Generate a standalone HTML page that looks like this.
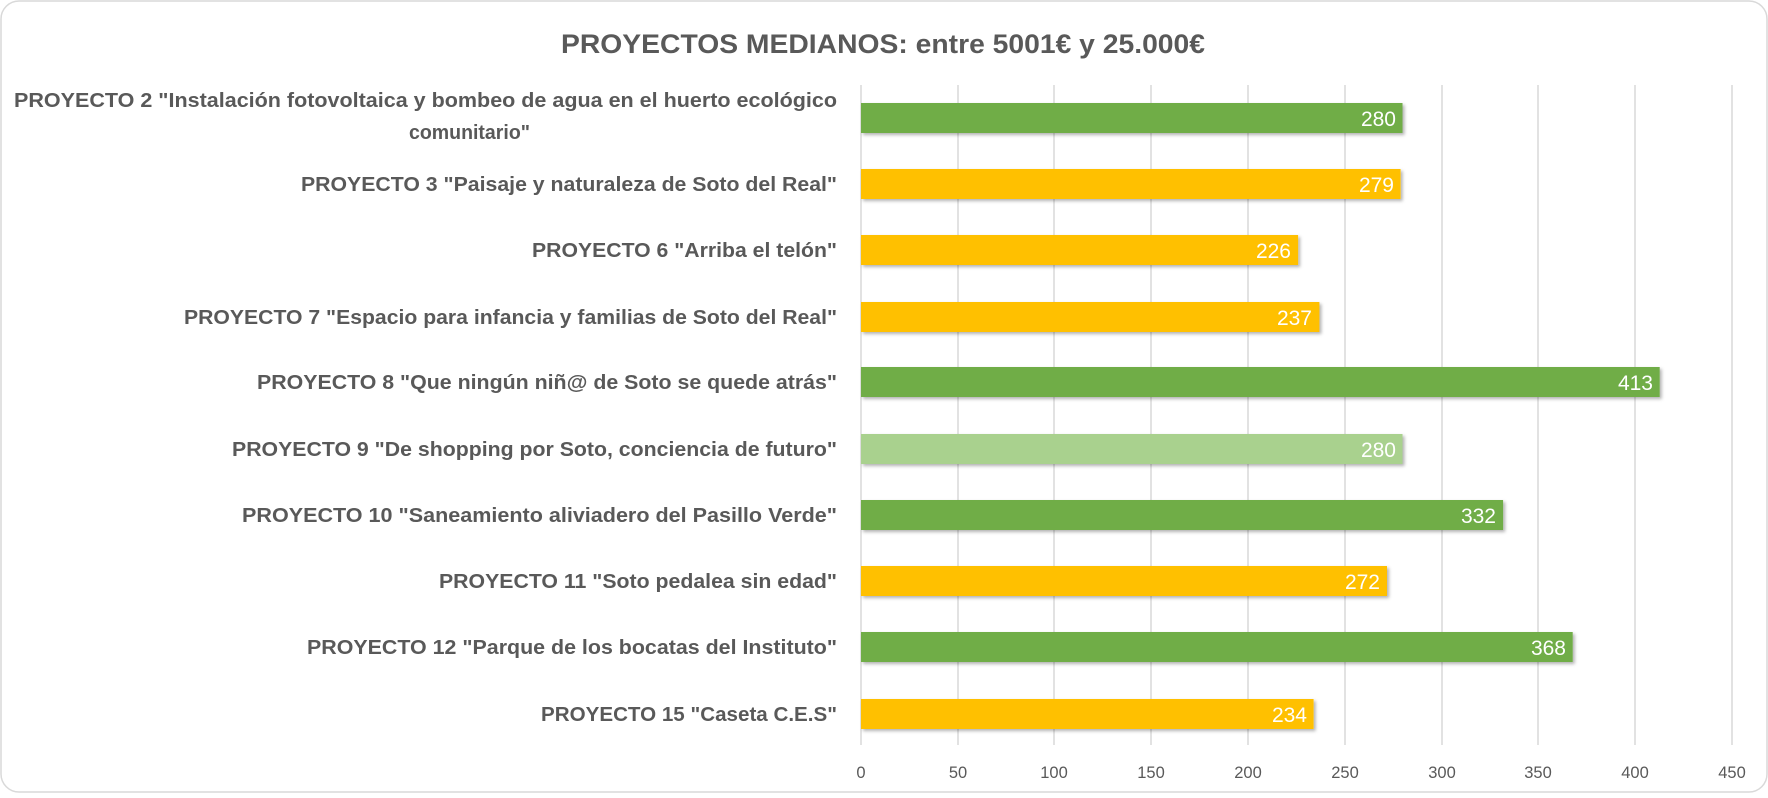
<!DOCTYPE html>
<html><head><meta charset="utf-8"><style>html,body{margin:0;padding:0;background:#fff}</style></head>
<body>
<svg width="1768" height="793" xmlns="http://www.w3.org/2000/svg" font-family="Liberation Sans, sans-serif">
<defs><filter id="sh" x="-5%" y="-20%" width="110%" height="160%"><feDropShadow dx="2" dy="2" stdDeviation="1.5" flood-color="#000" flood-opacity="0.3"/></filter></defs>
<rect x="1" y="1" width="1766" height="791" rx="18" fill="#fff" stroke="#d9d9d9" stroke-width="1.5"/>
<text x="883" y="53" text-anchor="middle" font-size="27" font-weight="bold" fill="#595959" textLength="644" lengthAdjust="spacingAndGlyphs">PROYECTOS MEDIANOS: entre 5001€ y 25.000€</text>
<g stroke="#d9d9d9" stroke-width="1.5">
<line x1="861" y1="85" x2="861" y2="745"/><line x1="958" y1="85" x2="958" y2="745"/><line x1="1054" y1="85" x2="1054" y2="745"/><line x1="1151" y1="85" x2="1151" y2="745"/><line x1="1248" y1="85" x2="1248" y2="745"/><line x1="1345" y1="85" x2="1345" y2="745"/><line x1="1442" y1="85" x2="1442" y2="745"/><line x1="1538" y1="85" x2="1538" y2="745"/><line x1="1635" y1="85" x2="1635" y2="745"/><line x1="1732" y1="85" x2="1732" y2="745"/>
</g>
<g font-size="16.5" fill="#595959" text-anchor="middle">
<text x="861" y="778">0</text><text x="958" y="778">50</text><text x="1054" y="778">100</text><text x="1151" y="778">150</text><text x="1248" y="778">200</text><text x="1345" y="778">250</text><text x="1442" y="778">300</text><text x="1538" y="778">350</text><text x="1635" y="778">400</text><text x="1732" y="778">450</text>
</g>
<g filter="url(#sh)">
<rect x="861" y="103" width="541.5" height="30" fill="#70AD47"/>
<rect x="861" y="169" width="539.6" height="30" fill="#FFC000"/>
<rect x="861" y="235" width="437.1" height="30" fill="#FFC000"/>
<rect x="861" y="302" width="458.4" height="30" fill="#FFC000"/>
<rect x="861" y="367" width="798.7" height="30" fill="#70AD47"/>
<rect x="861" y="434" width="541.5" height="30" fill="#A9D18E"/>
<rect x="861" y="500" width="642.1" height="30" fill="#70AD47"/>
<rect x="861" y="566" width="526.0" height="30" fill="#FFC000"/>
<rect x="861" y="632" width="711.7" height="30" fill="#70AD47"/>
<rect x="861" y="699" width="452.6" height="30" fill="#FFC000"/>
</g>
<g font-size="21" fill="#fff" text-anchor="end">
<text x="1396" y="126">280</text><text x="1394" y="192">279</text><text x="1291" y="258">226</text><text x="1312" y="325">237</text><text x="1653" y="390">413</text><text x="1396" y="457">280</text><text x="1496" y="523">332</text><text x="1380" y="589">272</text><text x="1566" y="655">368</text><text x="1307" y="722">234</text>
</g>
<g font-size="20" font-weight="bold" fill="#595959" text-anchor="end">
<text x="837" y="107" textLength="823" lengthAdjust="spacingAndGlyphs">PROYECTO 2 "Instalación fotovoltaica y bombeo de agua en el huerto ecológico</text>
<text x="530" y="139" textLength="121" lengthAdjust="spacingAndGlyphs">comunitario"</text>
<text x="837" y="191" textLength="536" lengthAdjust="spacingAndGlyphs">PROYECTO 3 "Paisaje y naturaleza de Soto del Real"</text>
<text x="837" y="257" textLength="305" lengthAdjust="spacingAndGlyphs">PROYECTO 6 "Arriba el telón"</text>
<text x="837" y="324" textLength="653" lengthAdjust="spacingAndGlyphs">PROYECTO 7 "Espacio para infancia y familias de Soto del Real"</text>
<text x="837" y="389" textLength="580" lengthAdjust="spacingAndGlyphs">PROYECTO 8 "Que ningún niñ@ de Soto se quede atrás"</text>
<text x="837" y="456" textLength="605" lengthAdjust="spacingAndGlyphs">PROYECTO 9 "De shopping por Soto, conciencia de futuro"</text>
<text x="837" y="522" textLength="595" lengthAdjust="spacingAndGlyphs">PROYECTO 10 "Saneamiento aliviadero del Pasillo Verde"</text>
<text x="837" y="588" textLength="398" lengthAdjust="spacingAndGlyphs">PROYECTO 11 "Soto pedalea sin edad"</text>
<text x="837" y="654" textLength="530" lengthAdjust="spacingAndGlyphs">PROYECTO 12 "Parque de los bocatas del Instituto"</text>
<text x="837" y="721" textLength="296" lengthAdjust="spacingAndGlyphs">PROYECTO 15 "Caseta C.E.S"</text>
</g>
</svg>
</body></html>
